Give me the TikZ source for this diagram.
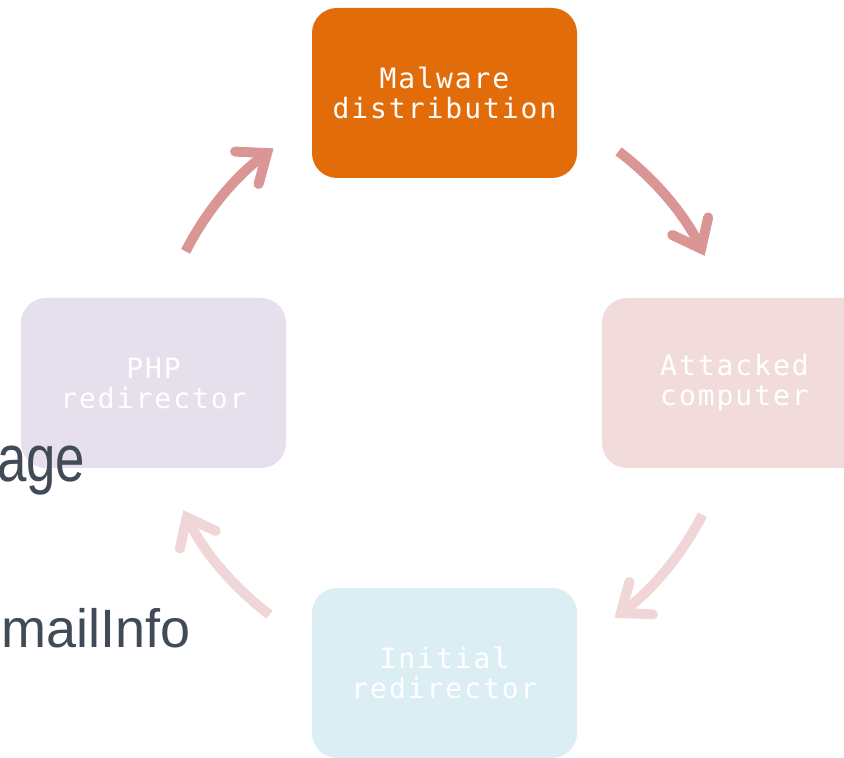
\documentclass[tikz,border=0pt]{standalone}
\usepackage{fontspec}
\setmainfont{Liberation Sans}
\newfontfamily\boxfont[LetterSpace=7]{DejaVu Sans Mono}
\usetikzlibrary{arrows.meta}
\definecolor{orangebox}{HTML}{E36C0A}
\definecolor{lavbox}{HTML}{E5E0EC}
\definecolor{pinkbox}{HTML}{F2DCDB}
\definecolor{bluebox}{HTML}{DAEEF3}
\definecolor{arrowdark}{HTML}{D99694}
\definecolor{arrowpale}{HTML}{F0D6D6}
\definecolor{slatetext}{HTML}{414B57}
\tikzset{
  stagebox/.style={rounded corners=25pt, minimum width=265pt, minimum height=170pt,
    inner sep=0pt, align=center, text=white, font=\boxfont\fontsize{28}{30}\selectfont},
  cyclearrow/.style={line width=10pt, line cap=butt,
    -{Straight Barb[length=25pt, width=40pt, line cap=round, line join=miter]}},
  bigtext/.style={text=slatetext, inner sep=0pt, anchor=base west}
}
\begin{document}
\begin{tikzpicture}[x=1pt,y=1pt]
\useasboundingbox (0,0) rectangle (844,758);
\fill[white] (0,0) rectangle (844,758);
\clip (0,0) rectangle (844,758);
\coordinate (c) at (444,375);
\node[stagebox, fill=orangebox] (mal) at (444.5,665) {Malware\\distribution};
\node[stagebox, fill=lavbox] (php) at (153.5,375) {PHP\\redirector};
\node[stagebox, fill=pinkbox] (att) at (734.5,375) {Attacked\\computer};
\node[stagebox, fill=bluebox] (ini) at (444.5,85) {Initial\\redirector};
\node[bigtext, font=\fontsize{66}{70}\selectfont, xscale=0.8] (age) at (-3,276) {age};
\node[bigtext, font=\fontsize{54}{60}\selectfont] (mail) at (1,110) {mailInfo};
\draw[cyclearrow, arrowdark] ([shift={(153:290pt)}]c) arc[start angle=153, end angle=126, radius=290pt];
\draw[cyclearrow, arrowdark] ([shift={(53:290pt)}]c) arc[start angle=53, end angle=26, radius=290pt];
\draw[cyclearrow, arrowpale] ([shift={(-27:290pt)}]c) arc[start angle=-27, end angle=-54, radius=290pt];
\draw[cyclearrow, arrowpale] ([shift={(-127:290pt)}]c) arc[start angle=-127, end angle=-154, radius=290pt];
\end{tikzpicture}
\end{document}
